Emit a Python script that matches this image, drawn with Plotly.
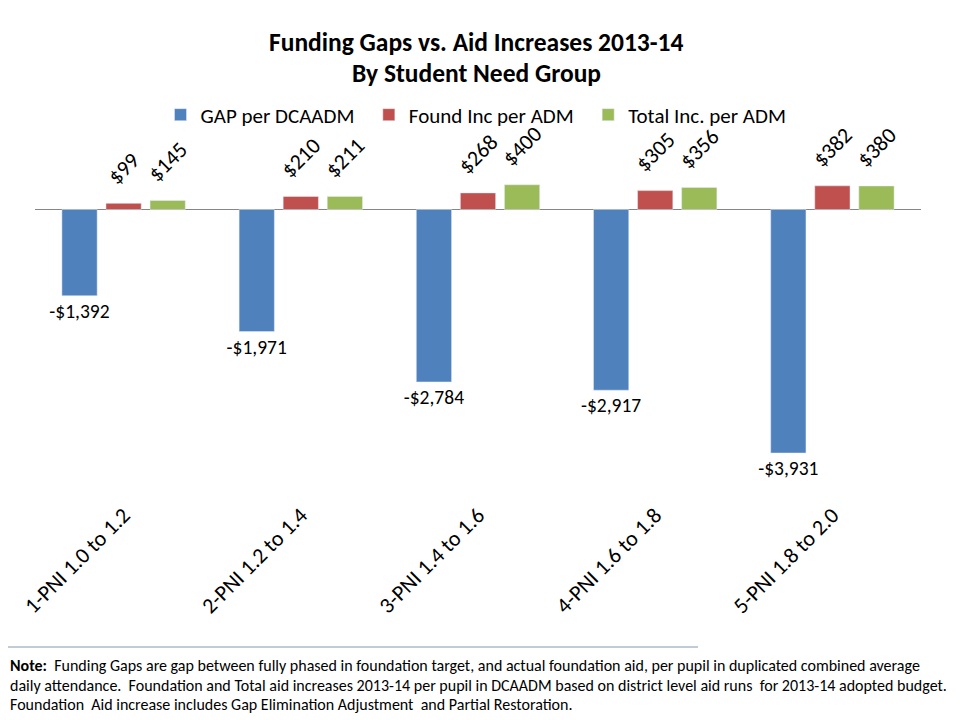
import plotly.graph_objects as go

categories = ["1-PNI 1.0 to 1.2", "2-PNI 1.2 to 1.4", "3-PNI 1.4 to 1.6",
              "4-PNI 1.6 to 1.8", "5-PNI 1.8 to 2.0"]
gap_per_dcaadm = [-1392, -1971, -2784, -2917, -3931]
found_inc_per_adm = [99, 210, 268, 305, 382]
total_inc_per_adm = [145, 211, 400, 356, 380]

series_names = ["GAP per DCAADM", "Found Inc per ADM", "Total Inc. per ADM"]
colors = ["#4F81BD", "#C0504D", "#9BBB59"]

FONT = "Calibri, Carlito, Lato, sans-serif"
NBSP = "\u00a0"

def money(v):
    return ("-$" if v < 0 else "$") + f"{abs(v):,}"

# the page body has an 8px margin: figure pixel = page pixel - 8
OFF = 8
W, H = 960 - OFF, 720 - OFF
pl, pr, pt, pb = 35 - OFF, 921 - OFF, 100 - OFF, 497 - OFF
zero_px = 209.5 - OFF
scale = (453 - 209.5) / 3931.0
ymax = (zero_px - pt) / scale
ymin = -(pb - zero_px) / scale

pad = NBSP * 3
fig = go.Figure()
for i, (vals, col, ang, fs) in enumerate([
    (gap_per_dcaadm, colors[0], 0, 19.5),
    (found_inc_per_adm, colors[1], -45, 22),
    (total_inc_per_adm, colors[2], -45, 22),
]):
    if ang == 0:
        labels = [money(v) for v in vals]
    else:
        labels = [pad + money(v) + pad for v in vals]
    legend_name = series_names[i] + (NBSP * 2 if i < 2 else "")
    fig.add_trace(go.Bar(
        x=categories, y=vals, name=legend_name, marker_color=col,
        text=labels, textposition="outside",
        textangle=ang, constraintext="none",
        textfont=dict(size=fs, color="#000000", family=FONT),
        cliponaxis=False,
    ))

def py2(py):
    # py given in page pixels
    return (pb - (py - OFF)) / (pb - pt)

def px2(px):
    return ((px - OFF) - pl) / (pr - pl)

note_lines = [
    "<b>Note:</b>  Funding Gaps are gap between fully phased in foundation target, and actual foundation aid, per pupil in duplicated combined average",
    "daily attendance.  Foundation and Total aid increases 2013-14 per pupil in DCAADM based on district level aid runs  for 2013-14 adopted budget.",
    "Foundation  Aid increase includes Gap Elimination Adjustment  and Partial Restoration.",
]
note_y = [665, 685, 704]
annotations = []
for line, yy in zip(note_lines, note_y):
    annotations.append(dict(
        text=line, xref="paper", yref="paper",
        x=px2(8), y=py2(yy),
        xanchor="left", yanchor="middle", showarrow=False, align="left",
        font=dict(size=16, color="#000000", family=FONT),
    ))

title_lines = ["Funding Gaps vs. Aid Increases 2013-14", "By Student Need Group"]
for line, yy in zip(title_lines, [43, 73]):
    annotations.append(dict(
        text="<b>" + line + "</b>", xref="paper", yref="paper",
        x=px2(476), y=py2(yy), xanchor="center", yanchor="middle",
        showarrow=False, font=dict(size=25.5, color="#000000", family=FONT),
    ))

fig.update_layout(
    width=W, height=H,
    margin=dict(l=pl, r=W - pr, t=pt, b=H - pb, pad=0, autoexpand=False),
    paper_bgcolor="white", plot_bgcolor="rgba(0,0,0,0)",
    font=dict(family=FONT, color="#000000"),
    barmode="group", bargap=0.254, bargroupgap=0.2,
    showlegend=True,
    legend=dict(
        orientation="h", x=px2(476), xanchor="center",
        y=py2(115), yanchor="middle", bgcolor="rgba(0,0,0,0)",
        font=dict(size=21, family=FONT, color="#000000"),
        traceorder="normal",
    ),
    xaxis=dict(
        type="category", range=[-0.5, 4.5], showgrid=False, showline=False,
        ticks="", tickangle=-45, automargin=False,
        tickfont=dict(size=22, family=FONT, color="#000000"),
        zeroline=False,
    ),
    yaxis=dict(
        range=[ymin, ymax], showgrid=False, showline=False, showticklabels=False,
        ticks="", automargin=False,
        zeroline=True, zerolinecolor="#868686", zerolinewidth=1,
    ),
    annotations=annotations,
    shapes=[dict(
        type="line", xref="paper", yref="paper",
        x0=px2(0), x1=px2(698), y0=py2(647), y1=py2(647),
        line=dict(color="#8497B0", width=1),
    )],
)

fig.write_html("out.html")
